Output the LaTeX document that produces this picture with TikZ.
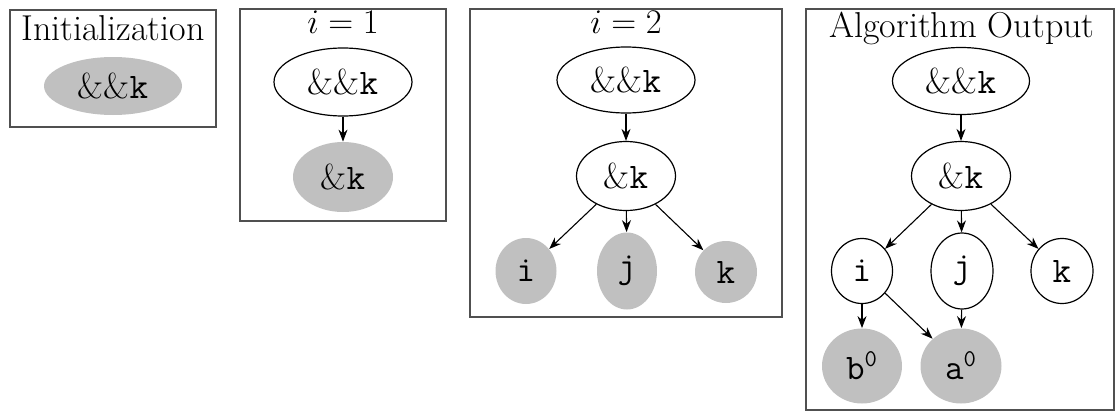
\documentclass[tikz,border=0pt]{standalone}
\usetikzlibrary{shapes.geometric,arrows.meta}
\definecolor{nodegray}{HTML}{C0C0C0}
\definecolor{framegray}{HTML}{505050}
\begin{document}
\begin{tikzpicture}[x=0.5pt,y=-0.5pt,
  every node/.style={font=\fontsize{18}{21}\selectfont, inner sep=0pt},
  frame/.style={draw=framegray, line width=1pt},
  title/.style={anchor=base},
  op/.style={ellipse, draw=black, line width=0.6pt, fill=white},
  leaf/.style={ellipse, fill=nodegray},
  arr/.style={-{Stealth[length=6pt,width=4.5pt]}, line width=0.55pt}]
\useasboundingbox (0,0) rectangle (1119,412);
% frames
\draw[frame] (10,10) rectangle (216,127);
\draw[frame] (240,9) rectangle (446,221);
\draw[frame] (470,9) rectangle (782,317);
\draw[frame] (806,9) rectangle (1114,410);
% box 1
\node[title] (t1) at (113,40) {Initialization};
\node[leaf, minimum width=69pt, minimum height=29pt] (a1) at (113,86) {\&\&\texttt{k}};
% box 2
\node[title] (t2) at (343,33) {$i=1$};
\node[op, minimum width=69pt, minimum height=34pt] (a2) at (343,82) {\&\&\texttt{k}};
\node[leaf, minimum width=50pt, minimum height=35pt] (b2) at (343,177) {\&\texttt{k}};
\draw[arr] (a2) -- (b2);
% box 3
\node[title] (t3) at (626,33) {$i=2$};
\node[op, minimum width=69pt, minimum height=33pt] (a3) at (626,80) {\&\&\texttt{k}};
\node[op, minimum width=49.5pt, minimum height=34.5pt] (b3) at (626,176) {\&\texttt{k}};
\node[leaf, minimum width=30.5pt, minimum height=33pt] (i3) at (526,271) {\texttt{i}};
\node[leaf, minimum width=30pt, minimum height=38.5pt] (j3) at (627,271) {\texttt{j}};
\node[leaf, minimum width=31pt, minimum height=31pt] (k3) at (726,272) {\texttt{k}};
\draw[arr] (a3) -- (b3);
\draw[arr] (b3) -- (i3);
\draw[arr] (b3) -- (j3);
\draw[arr] (b3) -- (k3);
% box 4
\node[title] (t4) at (962,37) {Algorithm Output};
\node[op, minimum width=68.5pt, minimum height=33.5pt] (a4) at (961,81) {\&\&\texttt{k}};
\node[op, minimum width=49.5pt, minimum height=34.5pt] (b4) at (961,176) {\&\texttt{k}};
\node[op, minimum width=30.5pt, minimum height=32.5pt] (i4) at (862,271) {\texttt{i}};
\node[op, minimum width=31pt, minimum height=38pt] (j4) at (962,271) {\texttt{j}};
\node[op, minimum width=31pt, minimum height=32.5pt] (k4) at (1062,271) {\texttt{k}};
\node[leaf, minimum width=40pt, minimum height=37.5pt] (bz) at (862,366) {\texttt{b}$^{\mathtt{0}}$};
\node[leaf, minimum width=40.5pt, minimum height=37.5pt] (az) at (961,366) {\texttt{a}$^{\mathtt{0}}$};
\draw[arr] (a4) -- (b4);
\draw[arr] (b4) -- (i4);
\draw[arr] (b4) -- (j4);
\draw[arr] (b4) -- (k4);
\draw[arr] (i4) -- (bz);
\draw[arr] (i4) -- (az);
\draw[arr] (j4) -- (az);
\end{tikzpicture}
\end{document}
